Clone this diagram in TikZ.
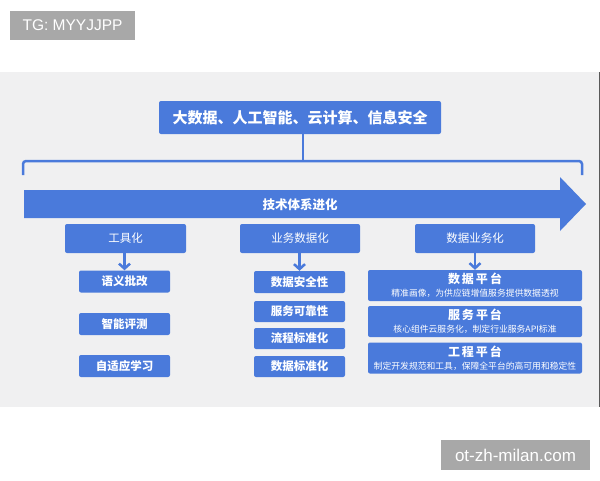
\documentclass[tikz,border=0pt]{standalone}
\usepackage{fontspec}
\usepackage{tikz}
\usetikzlibrary{arrows.meta}
\newfontfamily\cjk{Noto Sans CJK SC}
\newfontfamily\wmfont{Liberation Sans}
\definecolor{band}{rgb}{0.941, 0.941, 0.945}
\definecolor{boxblue}{rgb}{0.29, 0.48, 0.86}
\definecolor{wmgray}{rgb}{0.66, 0.66, 0.66}
\newcommand{\fs}[1]{\fontsize{#1}{#1}\selectfont}

\tikzset{
  bluebox/.style={fill=boxblue, text=white, rounded corners=2pt, inner sep=0pt, font=\cjk\bfseries},
  markbox/.style={fill=wmgray, text=white, inner sep=0pt, font=\wmfont},
  downarrow/.style={draw=boxblue, line width=2.5pt, -{Straight Barb[length=5pt, width=11pt]}}
}

\begin{document}
\begin{tikzpicture}[x=1pt, y=-1pt]
\useasboundingbox (0, 0) rectangle (600, 480);
\fill[white] (0, 0) rectangle (600, 480);
\fill[band] (0, 72) rectangle (600, 407);
\draw[gray!70!black, line width=1pt] (599, 72) -- (599, 407);
% watermarks
\node[markbox, minimum width=125pt, minimum height=29pt] (tg) at (72.5, 25.5) {\fs{15.5}TG: MYYJJPP};
\node[markbox, minimum width=149pt, minimum height=30pt] (site) at (515.5, 455) {\fs{17}ot-zh-milan.com};
% top
\node[bluebox, minimum width=282pt, minimum height=33pt] (top) at (300, 117.5) {\fs{15}大数据、人工智能、云计算、信息安全};
\coordinate (bracemid) at (303, 161);
\draw[boxblue, line width=2pt] (top.south -| bracemid) -- (bracemid);
\draw[boxblue, line width=2.5pt, rounded corners=3pt] (23, 175) -- (23, 161) -- (582, 161) -- (582, 175);
% big arrow
\fill[boxblue] (24, 190) -- (560, 190) -- (560, 177) -- (586, 204) -- (560, 231) -- (560, 218) -- (24, 218) -- cycle;
\node[text=white, font=\cjk\bfseries] (evol) at (300, 205) {\fs{12.5}技术体系进化};
% level two
\node[bluebox, font=\cjk, minimum width=121pt, minimum height=29pt] (tool) at (125.5, 238.5) {\fs{11.5}工具化};
\node[bluebox, font=\cjk, minimum width=120pt, minimum height=29pt] (bizdata) at (300, 238.5) {\fs{11.5}业务数据化};
\node[bluebox, font=\cjk, minimum width=120pt, minimum height=29pt] (databiz) at (475, 238.5) {\fs{11.5}数据业务化};
% tool column
\node[bluebox, minimum width=91pt, minimum height=22pt] (t1) at (124.5, 281.5) {\fs{11.5}语义批改};
\node[bluebox, minimum width=91pt, minimum height=22pt] (t2) at (124.5, 324) {\fs{11.5}智能评测};
\node[bluebox, minimum width=91pt, minimum height=22pt] (t3) at (124.5, 366) {\fs{11.5}自适应学习};
\draw[downarrow] (tool.south -| t1.north) -- (t1.north);
% bizdata column
\node[bluebox, minimum width=91pt, minimum height=22pt] (b1) at (299.5, 282) {\fs{11.5}数据安全性};
\node[bluebox, minimum width=91pt, minimum height=21pt] (b2) at (299.5, 311.5) {\fs{11.5}服务可靠性};
\node[bluebox, minimum width=91pt, minimum height=21pt] (b3) at (299.5, 338.5) {\fs{11.5}流程标准化};
\node[bluebox, minimum width=91pt, minimum height=21pt] (b4) at (299.5, 366.5) {\fs{11.5}数据标准化};
\draw[downarrow] (bizdata.south -| b1.north) -- (b1.north);
% databiz column
\node[bluebox, minimum width=214pt, minimum height=31pt, align=center] (d1) at (475, 285.5)
  {\fs{12}数\,据\,平\,台\\[1pt]{\fs{8.8}\mdseries 精准画像，为供应链增值服务提供数据透视}};
\node[bluebox, minimum width=214pt, minimum height=31pt, align=center] (d2) at (475, 321.5)
  {\fs{12}服\,务\,平\,台\\[1pt]{\fs{8.8}\mdseries 核心组件云服务化，制定行业服务API标准}};
\node[bluebox, minimum width=214pt, minimum height=31pt, align=center] (d3) at (475, 358)
  {\fs{12}工\,程\,平\,台\\[1pt]{\fs{8.8}\mdseries 制定开发规范和工具，保障全平台的高可用和稳定性}};
\draw[downarrow] (databiz.south -| d1.north) -- (d1.north);
\end{tikzpicture}
\end{document}
